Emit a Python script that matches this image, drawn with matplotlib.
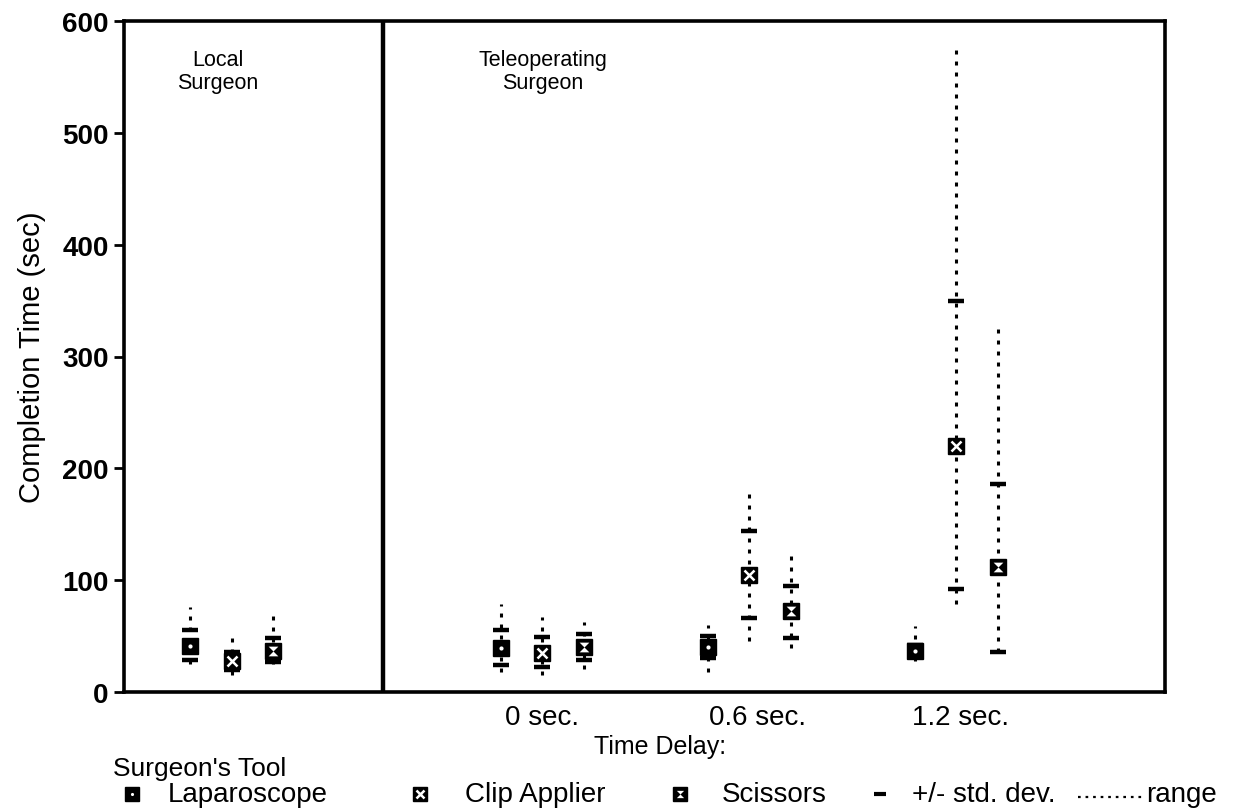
import numpy as np
import matplotlib
matplotlib.use("Agg")
import matplotlib.pyplot as plt

plt.rcParams["font.family"] = ["Liberation Sans", "DejaVu Sans"]

# data (seconds)
groups = ["Local", "0 sec.", "0.6 sec.", "1.2 sec."]
tools = ["Laparoscope", "Clip Applier", "Scissors"]

lap_mean = [41, 39, 40, 37]
lap_sd_hi = [55, 55, 50, 42]
lap_sd_lo = [29, 24, 30, 31]
lap_max = [76, 79, 60, 59]
lap_min = [25, 18, 18, 28]

clip_mean = [28, 35, 105, 220]
clip_sd_hi = [36, 49, 144, 350]
clip_sd_lo = [20, 22, 66, 92]
clip_max = [48, 67, 178, 577]
clip_min = [15, 15, 46, 79]

sci_mean = [37, 40, 72, 112]
sci_sd_hi = [48, 52, 95, 186]
sci_sd_lo = [27, 29, 48, 36]
sci_max = [68, 63, 122, 328]
sci_min = [25, 21, 39, 36]

group_centers = [2.5, 10, 15, 20]
tool_offsets = [-1, 0, 1]
label_pos = [10, 15.2, 20.1]

hourglass = [(-1, 1), (1, 1), (0, 0), (1, -1), (-1, -1), (0, 0)]
inner = [
    dict(marker="o", markersize=3, mew=0),
    dict(marker="x", markersize=7, mew=1.8),
    dict(marker=hourglass, markersize=7, mew=0),
]

fig = plt.figure(figsize=(12.34, 8.12), dpi=100)
W, H = 1234, 812
ax = fig.add_axes([124 / W, 1 - 693 / H, (1165 - 124) / W, (693 - 22) / H])

series = [
    (lap_mean, lap_sd_hi, lap_sd_lo, lap_max, lap_min),
    (clip_mean, clip_sd_hi, clip_sd_lo, clip_max, clip_min),
    (sci_mean, sci_sd_hi, sci_sd_lo, sci_max, sci_min),
]

for t, (mean, sdh, sdl, mx, mn) in enumerate(series):
    xs = np.array(group_centers) + tool_offsets[t]
    for i, x in enumerate(xs):
        ax.plot([x, x], [mn[i], mx[i]], color="black", lw=2.2,
                linestyle=(0, (1.3, 2.3)), zorder=2)
    ax.plot(xs, sdh, linestyle="none", marker="_", markersize=12, mew=3.2,
            color="black", zorder=3)
    ax.plot(xs, sdl, linestyle="none", marker="_", markersize=12, mew=3.2,
            color="black", zorder=3)
    ax.plot(xs, mean, linestyle="none", marker="s", markersize=11.5,
            color="black", zorder=4)
    ax.plot(xs, mean, linestyle="none", color="white", zorder=5, **inner[t])

ax.axvline(6.16, color="black", lw=3.2, zorder=1)

ax.set_xlim(-0.1, 25.04)
ax.set_ylim(0, 600)
ax.set_yticks(np.arange(0, 601, 100))
ax.set_yticklabels([str(v) for v in range(0, 601, 100)], fontsize=20,
                   fontweight="bold")
ax.tick_params(axis="y", direction="out", length=7, width=2, pad=4)
ax.set_xticks(label_pos)
ax.set_xticklabels(groups[1:], fontsize=20)
ax.tick_params(axis="x", length=0, pad=9)
ax.set_ylabel("Completion Time (sec)", fontsize=21, labelpad=12)
for s in ax.spines.values():
    s.set_linewidth(2.6)

# overlay in pixel units for captions and the legend row
lax = fig.add_axes([0, 0, 1, 1])
lax.set_xlim(0, W)
lax.set_ylim(H, 0)
lax.axis("off")

lax.text(218, 72, "Local\nSurgeon", ha="center", va="center", fontsize=15.5,
         linespacing=1.1)
lax.text(543, 72, "Teleoperating\nSurgeon", ha="center", va="center",
         fontsize=15.5, linespacing=1.1)
lax.text(660, 747, "Time Delay:", ha="center", va="center", fontsize=18)
lax.text(113, 769, "Surgeon's Tool", ha="left", va="center", fontsize=19)

row_y = 795
item_x = [132, 420, 680]
text_x = [168, 465, 722]
for t in range(3):
    lax.plot(item_x[t], row_y, marker="s", markersize=10, color="black",
             linestyle="none")
    kw = dict(inner[t])
    kw["markersize"] = kw["markersize"] * 0.75
    lax.plot(item_x[t], row_y, color="white", linestyle="none", **kw)
    lax.text(text_x[t], row_y, tools[t], ha="left", va="center", fontsize=20)

lax.plot(880, row_y, marker="_", markersize=8, mew=3, color="black")
lax.text(912, row_y, "+/- std. dev.", ha="left", va="center", fontsize=20)
lax.plot([1078, 1143], [row_y + 3, row_y + 3], color="black", lw=1.6,
         linestyle=(0, (1.2, 2.2)))
lax.text(1146, row_y, "range", ha="left", va="center", fontsize=20)

fig.savefig("out.png", dpi=100)
